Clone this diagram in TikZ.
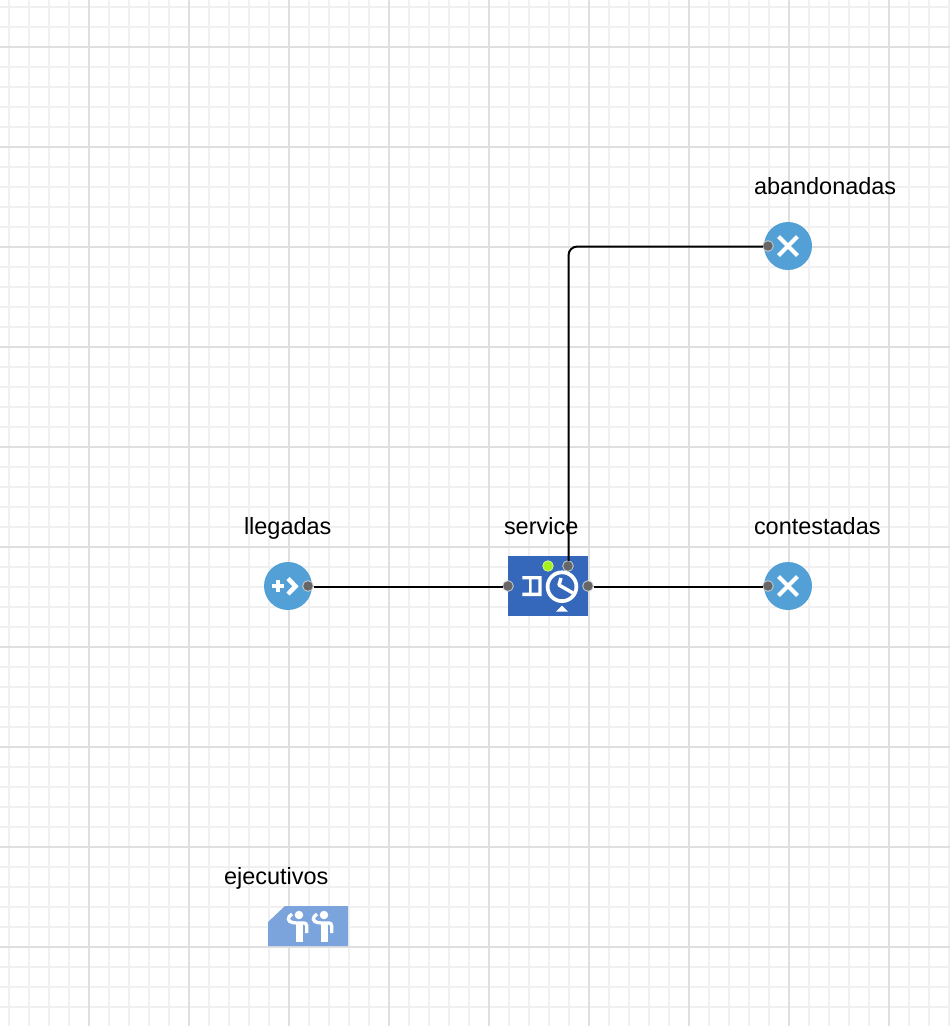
\documentclass[tikz,border=0pt]{standalone}
\usepackage{fontspec}
\setmainfont{Liberation Sans}
\definecolor{couleurgrille}{HTML}{F0F0F0}
\definecolor{couleurmajeur}{HTML}{DFDFDF}
\definecolor{couleurbloc}{HTML}{52A0D6}
\definecolor{couleurservice}{HTML}{3567BA}
\definecolor{couleurressource}{HTML}{7BA3DC}
\definecolor{couleurport}{HTML}{666666}
\definecolor{couleurled}{HTML}{A6F01E}
\tikzset{
		basic/.style={inner sep=0pt, outer sep=0pt},
		bloc/.style={basic, circle, fill=couleurbloc, minimum size=36pt},
		service/.style={basic, rectangle, fill=couleurservice, minimum width=60pt, minimum height=45pt},
		puerto/.style={basic, circle, fill=couleurport, draw=white!70!couleurport, line width=0.6pt, minimum size=8pt},
		led/.style={basic, circle, fill=couleurled, draw=white!60!couleurled, line width=0.5pt, minimum size=8pt},
		etiqueta/.style={basic, anchor=base west, font=\fontsize{17.6}{20}\selectfont},
		conector/.style={black, line width=1.5pt, rounded corners=6.5pt, transform canvas={shift={(0.4pt,-0.4pt)}}},
		icono/.style={white, line width=3pt},
		persona/.pic={
			\fill[white] (31,9) circle (3.2pt);
			\draw[white, line width=5.2pt] (31.7,16) -- (31.7,36);
			\draw[white, line width=2.5pt, rounded corners=2pt] (24,8) .. controls (19,11) and (19,16) .. (28,17) -- (38.7,17) -- (38.7,27);
		}
	}

\begin{document}
\begin{tikzpicture}[x=0.75pt, y=-0.75pt]
		\useasboundingbox (0,0) rectangle (950,1026);
		% grille
		\foreach \x in {9,29,...,949} \draw[couleurgrille, line width=1.5pt] (\x,0) -- (\x,1026);
		\foreach \y in {7,27,...,1027} \draw[couleurgrille, line width=1.5pt] (0,\y) -- (950,\y);
		\foreach \x in {89,189,...,889} \draw[couleurmajeur, line width=1.5pt] (\x,0) -- (\x,1026);
		\foreach \y in {47,147,...,947} \draw[couleurmajeur, line width=1.5pt] (0,\y) -- (950,\y);
		% blocs
		\node[bloc](llegadas) at (288,586) {};
		\node[service](service) at (548,586) {};
		\node[bloc](contestadas) at (788,586) {};
		\node[bloc](abandonadas) at (788,246) {};
		\fill[couleurressource] (268,922) -- (285,906) -- (348,906) -- (348,946) -- (268,946) -- cycle;
		% etiquettes
		\node[etiqueta](abandonadastxt) at (754,194) {abandonadas};
		\node[etiqueta](llegadastxt) at (244,534) {llegadas};
		\node[etiqueta](servicetxt) at (504,534) {service};
		\node[etiqueta](contestadastxt) at (754,534) {contestadas};
		\node[etiqueta](ejecutivostxt) at (224,884) {ejecutivos};
		% ports
		\node[puerto](llegadasout) at (308,586) {};
		\node[puerto](servicein) at (508,586) {};
		\node[puerto](serviceout) at (588,586) {};
		\node[puerto](servicetop) at (568,566) {};
		\node[puerto](contestadasin) at (768,586) {};
		\node[puerto](abandonadasin) at (768,246) {};
		\node[led](serviceled) at (548,566) {};
		% connexions
		\draw[conector] (llegadasout) -- (servicein);
		\draw[conector] (serviceout) -- (contestadasin);
		\draw[conector] (servicetop) |- (abandonadasin);
		% icones
		\draw[icono, line width=3.2pt] (278.3,580) -- (278.3,592) (272.3,586) -- (284.3,586);
		\draw[icono, line width=3.4pt] (288,578.5) -- (295.5,586.3) -- (288,594);
		\foreach \c in {contestadas, abandonadas} {
			\draw[icono] ([shift={(-9.5,-9.5)}]\c.center) -- ([shift={(9.5,9.5)}]\c.center);
			\draw[icono] ([shift={(-9.5,9.5)}]\c.center) -- ([shift={(9.5,-9.5)}]\c.center);
		}
		\fill[white] (522.3,576) rectangle (541.7,579.3) (522.3,592.7) rectangle (541.7,596) (529,576) rectangle (531.7,596) (538.3,576) rectangle (541.7,596);
		\draw[white, fill=couleurservice, line width=2.8pt] (562,586.7) circle (10.8pt);
		\draw[icono, line width=2.6pt, line join=round] (561,578) -- (559,585) -- (573,593);
		\fill[white] (556,611.5) -- (562,605.5) -- (568,611.5) -- cycle;
		\pic at (268,906) {persona};
		\pic at (293,906) {persona};
	\end{tikzpicture}
\end{document}
